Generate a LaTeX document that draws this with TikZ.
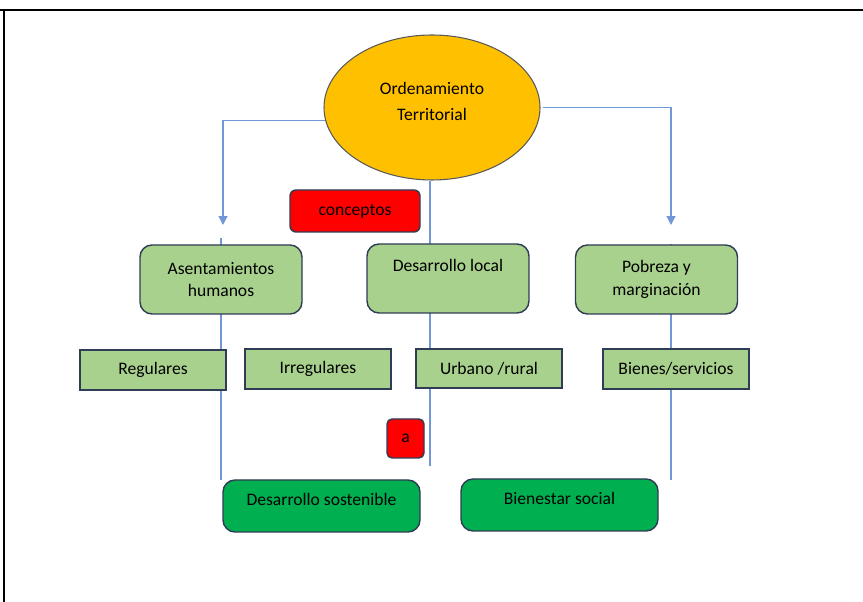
\documentclass[tikz,border=0pt]{standalone}
\usepackage{fontspec}
\setmainfont{Carlito}
\usepackage{xcolor}
\usepackage{tikz}
\usetikzlibrary{shapes.geometric, arrows.meta, backgrounds}

\definecolor{azulrama}{RGB}{115,150,215}
\definecolor{borda}{RGB}{47,60,85}
\definecolor{verdeclaro}{RGB}{169,209,142}
\definecolor{verdeescuro}{RGB}{0,176,80}
\definecolor{dourado}{RGB}{255,192,0}

\tikzset{
  texto/.style={font=\fontsize{10}{13}\selectfont},
  tema/.style={texto, draw=borda, line width=0.8pt, fill=verdeclaro, rounded corners=0.24cm,
    minimum width=3.24cm, minimum height=1.38cm, align=center, inner sep=2pt},
  subtema/.style={texto, draw=borda, line width=0.8pt, fill=verdeclaro,
    minimum width=2.92cm, minimum height=0.8cm, inner sep=2pt},
  resultado/.style={texto, draw=borda, line width=0.8pt, fill=verdeescuro, rounded corners=0.24cm,
    minimum width=3.94cm, minimum height=1.04cm, text depth=0.28cm, inner sep=2pt},
  rotulo/.style={texto, draw=borda, line width=0.8pt, fill=red, inner sep=2pt},
  enlace/.style={draw=azulrama, line width=0.7pt},
}

\begin{document}
\begin{tikzpicture}
    \useasboundingbox (0,0) rectangle (17.26,12.04);
    % marco
    \draw[line width=1.1pt] (0,11.84) -- (17.26,11.84);
    \draw[line width=1.1pt] (0.08,11.84) -- (0.08,0);

    % centro
    \node[ellipse, draw=gray!70!black, fill=dourado, line width=0.6pt,
          minimum width=4.32cm, minimum height=2.9cm, inner sep=0pt] (ot) at (8.64,9.89) {};
    \node[texto, align=center, font=\fontsize{10}{14.8}\selectfont] (otl) at (8.64,10.02) {Ordenamiento\\Territorial};

    % rotulos
    \node[rotulo, rounded corners=0.12cm, minimum width=2.6cm, minimum height=0.84cm] (conc) at (7.10,7.82) {conceptos};
    \node[rotulo, rounded corners=0.1cm, minimum width=0.74cm, minimum height=0.78cm] (ra) at (8.11,3.27) {a};

    % temas
    \node[tema] (asen) at (4.42,6.45) {Asentamientos\\humanos};
    \node[tema, text depth=0.54cm] (dloc) at (8.96,6.47) {Desarrollo local};
    \node[tema] (pobr) at (13.13,6.45) {Pobreza y\\marginación};

    % subtemas
    \node[subtema] (regu) at (3.06,4.64) {Regulares};
    \node[subtema] (irre) at (6.36,4.66) {Irregulares};
    \node[subtema, minimum height=0.78cm] (urru) at (9.78,4.67) {Urbano /rural};
    \node[subtema] (bien) at (13.52,4.66) {Bienes/servicios};

    % resultados
    \node[resultado] (dsos) at (6.43,1.92) {Desarrollo sostenible};
    \node[resultado] (bsoc) at (11.19,1.94) {Bienestar social};

    % puntos sueltos
    \coordinate (tipA) at (4.46,7.54);
    \coordinate (tipB) at (13.42,7.54);
    \coordinate (iniA) at (4.42,7.28);
    \coordinate (finA) at (4.42,2.44);
    \coordinate (iniB) at (13.42,7.16);
    \coordinate (finB) at (13.42,2.44);
    \coordinate (finC) at (8.60,2.72);

    \begin{pgfonlayer}{background}
    \draw[enlace, -{Triangle[width=5pt,length=5pt]}] (ot.187) -| (tipA);
    \draw[enlace, -{Triangle[width=5pt,length=5pt]}] ([xshift=0.04cm]ot.east) -| (tipB);
    \draw[enlace, line width=0.6pt] (iniA) -- (finA);
    \draw[enlace, line width=0.6pt] (iniB) -- (finB);
    \draw[enlace, line width=0.6pt] (ot.south -| finC) -- (finC);
    \end{pgfonlayer}
\end{tikzpicture}
\end{document}
